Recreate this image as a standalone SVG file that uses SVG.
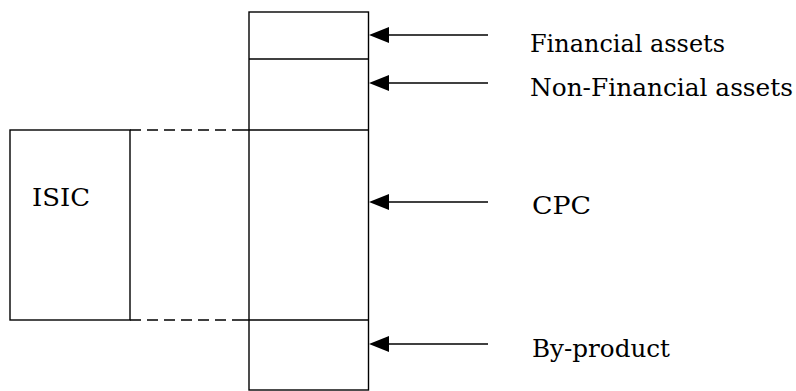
<svg xmlns="http://www.w3.org/2000/svg" width="796" height="391" viewBox="0 0 796 391">
<style>
.box{fill:#fff;stroke:#000;stroke-width:1.4}
.ln{stroke:#000;stroke-width:1.4;fill:none}
.dash{stroke:#000;stroke-width:1.4;fill:none;stroke-dasharray:11 6}
.head{fill:#000}
.t{font-family:"DejaVu Serif","Liberation Serif",serif;font-size:25px;fill:#000}
</style>
<rect width="796" height="391" fill="#fff"/>
<g id="column">
<rect class="box" x="249" y="12" width="119.5" height="378"/>
<line class="ln" x1="249" y1="59" x2="368.5" y2="59"/>
<line class="ln" x1="241" y1="130" x2="368.5" y2="130"/>
<line class="ln" x1="241" y1="320" x2="368.5" y2="320"/>
</g>
<g id="isic">
<rect class="box" x="10" y="130" width="120" height="190"/>
<text class="t" x="32" y="206" textLength="58" lengthAdjust="spacingAndGlyphs">ISIC</text>
</g>
<g id="label-financial"><text class="t" x="530" y="52" textLength="195" lengthAdjust="spacingAndGlyphs">Financial assets</text></g>
<g id="label-nonfinancial"><text class="t" x="530" y="96" textLength="263" lengthAdjust="spacingAndGlyphs">Non-Financial assets</text></g>
<g id="label-cpc"><text class="t" x="532" y="214" textLength="59" lengthAdjust="spacingAndGlyphs">CPC</text></g>
<g id="label-byproduct"><text class="t" x="532" y="357" textLength="138" lengthAdjust="spacingAndGlyphs">By-product</text></g>
<g id="connectors">
<line class="dash" x1="130" y1="130" x2="241" y2="130"/>
<line class="dash" x1="130" y1="320" x2="241" y2="320"/>
<line class="ln" x1="388" y1="35" x2="488" y2="35"/>
<polygon class="head" points="369,35 389,27 389,43"/>
<line class="ln" x1="388" y1="83" x2="488" y2="83"/>
<polygon class="head" points="369,83 389,75 389,91"/>
<line class="ln" x1="388" y1="202" x2="488" y2="202"/>
<polygon class="head" points="369,202 389,194 389,210"/>
<line class="ln" x1="388" y1="344" x2="488" y2="344"/>
<polygon class="head" points="369,344 389,336 389,352"/>
</g>
</svg>
